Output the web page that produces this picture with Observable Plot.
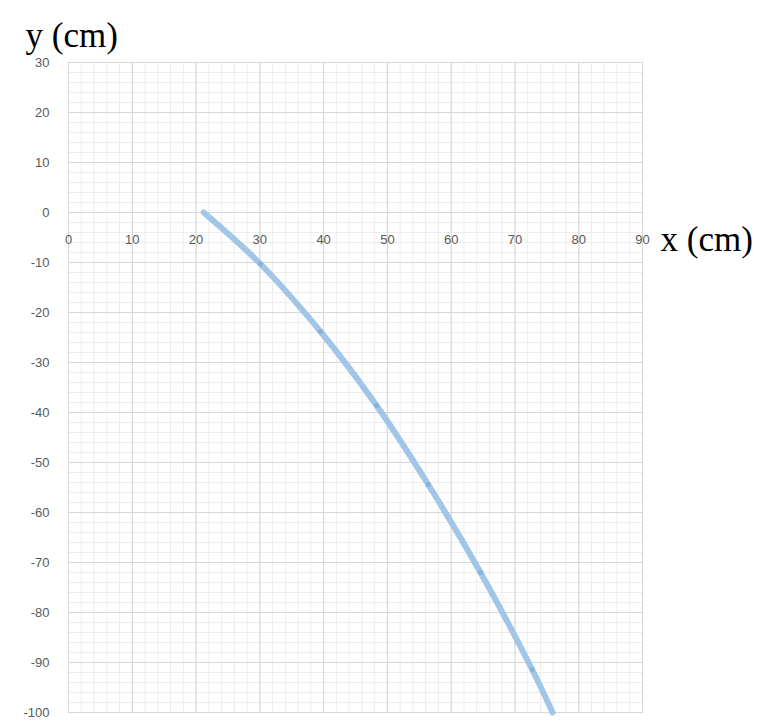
<!DOCTYPE html>
<html>
<head>
<meta charset="utf-8">
<script src="https://cdn.jsdelivr.net/npm/d3@7"></script>
<script src="https://cdn.jsdelivr.net/npm/@observablehq/plot@0.6"></script>
<style>
  html, body { margin: 0; padding: 0; background: #fff; }
  #chart svg { display: block; }
</style>
</head>
<body>
<div id="chart"></div>
<script>
// Data
const xs = [21.2, 30.1, 39.5, 48.3, 56.4, 64.6, 72.7, 75.9];
const ys = [0, -10.3, -23.8, -38.6, -54.4, -72.0, -91.4, -100];
const markerIdx = [1, 2, 3, 4, 5, 6];
const xTicks = [0, 10, 20, 30, 40, 50, 60, 70, 80, 90];
const yTicks = [30, 20, 10, 0, -10, -20, -30, -40, -50, -60, -70, -80, -90, -100];
const xMinor = d3.range(0, 91, 2);
const yMinor = d3.range(-100, 31, 2);
const xTitle = "x (cm)";
const yTitle = "y (cm)";

const pts = xs.map((x, i) => ({x, y: ys[i]}));
const markers = markerIdx.map(i => pts[i]);

const tickFont = "'Liberation Sans', Arial, sans-serif";
const serif = "'Liberation Serif', 'Times New Roman', serif";

const chart = Plot.plot({
  width: 765,
  height: 724,
  marginLeft: 68,
  marginRight: 123,
  marginTop: 62,
  marginBottom: 12,
  x: {domain: [0, 90], axis: null},
  y: {domain: [-100, 30], axis: null},
  style: {background: "#fff"},
  marks: [
    Plot.ruleX(xMinor, {stroke: "#ededed", strokeWidth: 1}),
    Plot.ruleY(yMinor, {stroke: "#ededed", strokeWidth: 1}),
    Plot.ruleX(xTicks, {stroke: "#d6d6d6", strokeWidth: 1}),
    Plot.ruleY(yTicks, {stroke: "#d6d6d6", strokeWidth: 1}),
    Plot.frame({stroke: "#d6d6d6"}),
    Plot.text(yTicks, {x: 0, y: d => d, text: d => String(d), textAnchor: "end", dx: -19,
      fontSize: 13, fill: "#595959", fontFamily: tickFont}),
    Plot.text(xTicks, {x: d => d, y: 0, text: d => String(d), dy: 27,
      fontSize: 13, fill: "#595959", fontFamily: tickFont}),
    Plot.line(pts, {x: "x", y: "y", stroke: "#9dc3e6", strokeWidth: 6, curve: "catmull-rom", strokeOpacity: 0.95}),
    Plot.dot(markers, {x: "x", y: "y", r: 2.5, fill: "#86b2dc", stroke: "none"}),
    Plot.text([xTitle], {x: 90, y: 0, text: d => d, textAnchor: "start", dx: 18, dy: 27,
      fontSize: 35, fill: "#000", fontFamily: serif}),
    Plot.text([yTitle], {frameAnchor: "top-left", text: d => d, textAnchor: "start", dx: -43, dy: -40,
      fontSize: 35, fill: "#000", fontFamily: serif})
  ]
});
document.getElementById("chart").appendChild(chart);
</script>
</body>
</html>
